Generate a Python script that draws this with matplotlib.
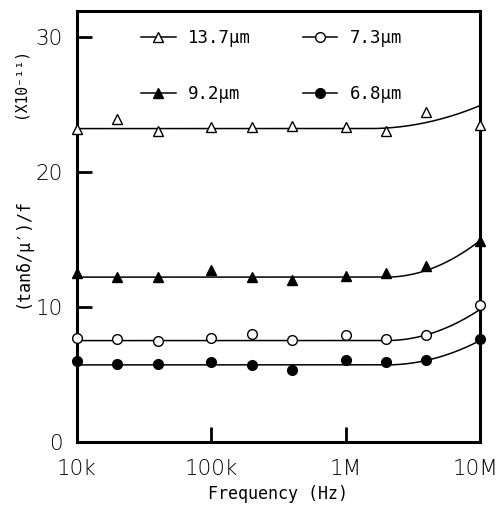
import numpy as np
import matplotlib.pyplot as plt
from matplotlib.transforms import ScaledTranslation

# frequency points (Hz)
freq = [1e4, 2e4, 4e4, 1e5, 2e5, 4e5, 1e6, 2e6, 4e6, 1e7]

# measured (tan d / mu') / f  (x 1e-11)
t137 = [23.2, 23.9, 23.0, 23.3, 23.3, 23.4, 23.3, 23.0, 24.4, 23.5]
t92 = [12.5, 12.2, 12.2, 12.7, 12.2, 12.0, 12.3, 12.5, 13.0, 14.9]
t73 = [7.7, 7.6, 7.5, 7.7, 8.0, 7.55, 7.9, 7.6, 7.9, 10.1]
t68 = [6.0, 5.8, 5.8, 5.9, 5.7, 5.35, 6.05, 5.9, 6.05, 7.6]

labels = ["13.7μm", "9.2μm", "7.3μm", "6.8μm"]
# fitted curves: flat level, value at 10M, frequency where rise starts
fit_flat = [23.2, 12.2, 7.5, 5.7]
fit_end = [24.9, 14.9, 9.8, 7.5]
fit_start = [1.5e6, 2e6, 2e6, 2e6]

xticks = [1e4, 1e5, 1e6, 1e7]
xticklabels = ["10k", "100k", "1M", "10M"]
yticks = [0, 10, 20, 30]

fig = plt.figure(figsize=(5.02, 5.05), dpi=100)
ax = fig.add_axes([0.153, 0.125, 0.803, 0.853])

styles = [("^", "white"), ("^", "black"), ("o", "white"), ("o", "black")]
series = [t137, t92, t73, t68]

ff = np.logspace(4, 7, 300)
for vals, (m, fc), lab, y0, y1, fs in zip(series, styles, labels, fit_flat, fit_end, fit_start):
    t = np.clip((np.log10(ff) - np.log10(fs)) / (7 - np.log10(fs)), 0, 1)
    ax.plot(ff, y0 + (y1 - y0) * t ** 2, color="black", lw=1.1)
    ax.plot(freq, vals, ls="none", marker=m, ms=7, mfc=fc, mec="black", mew=1.0, clip_on=False, zorder=3)
    # legend handle
    ax.plot([], [], color="black", lw=1.1, marker=m, ms=7, mfc=fc, mec="black", mew=1.0, label=lab)

ax.set_xscale("log")
ax.set_xlim(1e4, 1e7)
ax.set_ylim(0, 31.9)
ax.set_xticks(xticks)
ax.set_xticklabels(xticklabels)
ax.minorticks_off()
ax.set_yticks(yticks)
ax.tick_params(direction="in", length=11, width=2, labelsize=15.5, pad=10)
ax.tick_params(axis="x", pad=12)
for lbl in ax.get_xticklabels() + ax.get_yticklabels():
    lbl.set_fontfamily("DejaVu Sans")
    lbl.set_fontweight("light")
last = ax.get_xticklabels()[-1]
last.set_transform(last.get_transform() + ScaledTranslation(-3 / 72, 0, fig.dpi_scale_trans))
for s in ax.spines.values():
    s.set_linewidth(2.2)

ax.set_xlabel("Frequency (Hz)", family="DejaVu Sans Mono", fontsize=12, labelpad=5)
fig.text(0.045, 0.5, "(tanδ/μ′)/f", family="DejaVu Sans Mono", fontsize=12,
         rotation=90, ha="center", va="center")
fig.text(0.04, 0.835, "(X10⁻¹¹)", family="DejaVu Sans Mono", fontsize=10.5,
         rotation=90, ha="center", va="center")

ax.legend(loc="upper left", bbox_to_anchor=(0.12, 0.995), ncol=2, frameon=False,
          prop={"family": "DejaVu Sans Mono", "size": 12.5}, handlelength=2.0,
          labelspacing=2.2, columnspacing=3.0, handletextpad=0.7)

plt.savefig("out.png", dpi=100)
